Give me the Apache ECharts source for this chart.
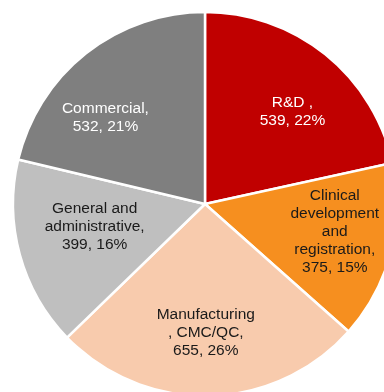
<!DOCTYPE html>
<html>
<head>
<meta charset="utf-8">
<style>
  html, body { margin: 0; padding: 0; background: #fff; }
  #chart { width: 384px; height: 392px; }
</style>
<script src="https://cdn.jsdelivr.net/npm/echarts@6/dist/echarts.min.js"></script>
</head>
<body>
<div id="chart"></div>
<script>
// Spend by function (slices run clockwise from 12 o'clock)
const categories = [
  'R&D ,',
  'Clinical\ndevelopment\nand\nregistration,',
  'Manufacturing\n, CMC/QC,',
  'General and\nadministrative,',
  'Commercial,'
];
const values = [539, 375, 655, 399, 532];

// Styling
const sliceColors = ['#C00000', '#F68F1F', '#F8CBAD', '#BFBFBF', '#7F7F7F'];
const labelColors = ['#ffffff', '#1a1a1a', '#1a1a1a', '#1a1a1a', '#ffffff'];
// small hand nudges so each label sits nicely within its slice
const labelOffsets = [[6, 9], [4, -5], [-2, -1], [15, -12], [-19, 16]];

const total = values.reduce((a, b) => a + b, 0);

const chart = echarts.init(document.getElementById('chart'), null, { renderer: 'canvas' });

const center = [205, 204];
const outerR = 192;

const sliceData = categories.map((name, i) => ({
  name: name,
  value: values[i],
  itemStyle: { color: sliceColors[i] }
}));

// Same slices again, invisible, as a ring whose midline carries the labels
const labelData = categories.map((name, i) => ({
  name: name,
  value: values[i],
  itemStyle: { color: 'rgba(0,0,0,0)' },
  label: { color: labelColors[i], offset: labelOffsets[i] }
}));

chart.setOption({
  animation: false,
  series: [
    {
      type: 'pie',
      center: center,
      radius: [0, outerR],
      startAngle: 90,
      clockwise: true,
      avoidLabelOverlap: false,
      data: sliceData,
      itemStyle: { borderColor: '#ffffff', borderWidth: 2.5 },
      label: { show: false },
      labelLine: { show: false },
      emphasis: { disabled: true }
    },
    {
      type: 'pie',
      center: center,
      radius: [62, outerR],
      startAngle: 90,
      clockwise: true,
      silent: true,
      avoidLabelOverlap: false,
      data: labelData,
      itemStyle: { borderWidth: 0 },
      label: {
        show: true,
        position: 'inside',
        fontFamily: 'Liberation Sans, Arial, sans-serif',
        fontSize: 15.5,
        lineHeight: 18,
        align: 'center',
        formatter: p => p.name + '\n' + p.value + ', ' + Math.round(p.value / total * 100) + '%'
      },
      labelLine: { show: false },
      emphasis: { disabled: true }
    }
  ]
});
</script>
</body>
</html>
